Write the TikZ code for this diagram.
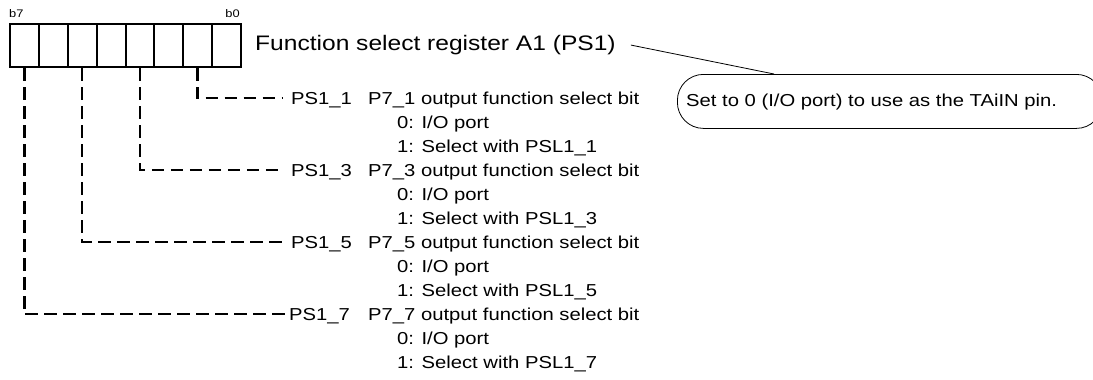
\documentclass[tikz,border=0pt]{standalone}
\usepackage{fontspec}
\setmainfont{Liberation Sans}[FakeStretch=1.17]
\begin{document}
\begin{tikzpicture}[x=1pt,y=-1pt,
  cell/.style={draw, line width=2pt, minimum width=28.875pt, minimum height=43pt, inner sep=0pt, anchor=north west},
  txt/.style={font=\fontsize{17.3}{20}\selectfont, anchor=base west, inner sep=0pt},
  bitlbl/.style={font=\fontsize{11}{13}\selectfont, inner sep=0pt},
  conn/.style={line width=2.6pt, dash pattern=on 12.5pt off 6.5pt},
  thinline/.style={line width=0.8pt}]
\useasboundingbox (0,0) rectangle (1093,380);
% register cells
\foreach \n [count=\i from 0] in {7,6,5,4,3,2,1,0}
  \node[cell] (b\n) at ({9+28.875*\i},23) {};
\node[bitlbl, anchor=base west] (lb7) at (9,17) {b7};
\node[bitlbl, anchor=base east] (lb0) at (240,17) {b0};
% title
\node[anchor=base west, inner sep=0pt, font=\fontsize{21}{25}\selectfont] (title) at (255,50.5) {Function select register A1 (PS1)};
% callout
\node[draw, thinline, rounded corners=26pt, minimum width=425pt, minimum height=54pt, anchor=north west] (callout) at (677,74) {};
\node[txt] (ctext) at (686,106) {Set to 0 (I/O port) to use as the TAiIN pin.};
\draw[thinline] ([xshift=15pt]title.east) -- ([xshift=97pt]callout.north west);
% bit descriptions
\node[txt] (ps1) at (291,104) {PS1\_1};
\node[txt] (d1) at (368,104) {P7\_1 output function select bit};
\node[txt] (d1a) at (397,128) {0: I/O port};
\node[txt] (d1b) at (397,152) {1: Select with PSL1\_1};
\node[txt] (ps3) at (291,176) {PS1\_3};
\node[txt] (d3) at (368,176) {P7\_3 output function select bit};
\node[txt] (d3a) at (397,200) {0: I/O port};
\node[txt] (d3b) at (397,224) {1: Select with PSL1\_3};
\node[txt] (ps5) at (291,248) {PS1\_5};
\node[txt] (d5) at (368,248) {P7\_5 output function select bit};
\node[txt] (d5a) at (397,272) {0: I/O port};
\node[txt] (d5b) at (397,296) {1: Select with PSL1\_5};
\node[txt] (ps7) at (289,320) {PS1\_7};
\node[txt] (d7) at (368,320) {P7\_7 output function select bit};
\node[txt] (d7a) at (397,344) {0: I/O port};
\node[txt] (d7b) at (397,368) {1: Select with PSL1\_7};
% dashed connectors
\draw[conn] (b1.south) |- ([shift={(-8pt,6pt)}]ps1.base west);
\draw[conn] (b3.south) |- ([shift={(-8pt,6pt)}]ps3.base west);
\draw[conn] (b5.south) |- ([shift={(-8pt,6pt)}]ps5.base west);
\draw[conn] (b7.south) |- ([shift={(-2pt,6pt)}]ps7.base west);
\end{tikzpicture}
\end{document}
